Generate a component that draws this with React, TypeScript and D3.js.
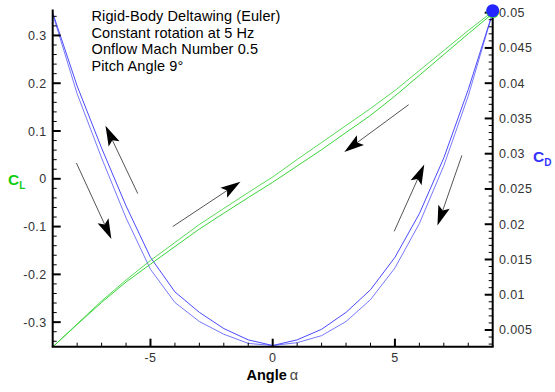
import React from 'react';
import * as d3 from 'd3';

// ---- data ----
const alpha = [-9, -8, -7, -6, -5, -4, -3, -2, -1, 0, 1, 2, 3, 4, 5, 6, 7, 8, 9];
// CL, upstroke (alpha increasing) and downstroke
const clUp = [-0.352, -0.3048, -0.2588, -0.216, -0.1787, -0.1418, -0.1052, -0.072, -0.0393, -0.0073, 0.0268, 0.0609, 0.0969, 0.1326, 0.1732, 0.2165, 0.26, 0.3036, 0.3458];
const clDown = [-0.352, -0.3038, -0.2557, -0.2118, -0.1709, -0.1333, -0.0956, -0.0621, -0.0287, 0.0038, 0.0404, 0.0759, 0.1115, 0.1471, 0.1847, 0.2266, 0.2684, 0.3103, 0.35];
// CD branches
const cdA = [0.05, 0.0396, 0.0308, 0.0226, 0.0153, 0.0104, 0.0075, 0.0052, 0.0036, 0.0028, 0.0036, 0.0051, 0.0075, 0.0107, 0.0153, 0.0215, 0.0294, 0.0391, 0.05];
const cdB = [0.0498, 0.0385, 0.0294, 0.0209, 0.0136, 0.0089, 0.0062, 0.0044, 0.0031, 0.0028, 0.0032, 0.0042, 0.0062, 0.0093, 0.0138, 0.0201, 0.0283, 0.0382, 0.05];

const xTicks = [-5, 0, 5];
const xMinor = [-8, -7, -6, -4, -3, -2, -1, 1, 2, 3, 4, 6, 7, 8];
const clTicks = [-0.3, -0.2, -0.1, 0, 0.1, 0.2, 0.3];
const clTickLabels = ['-0.3', '-0.2', '-0.1', '0', '0.1', '0.2', '0.3'];
const clMinor = [-0.34, -0.32, -0.28, -0.26, -0.24, -0.22, -0.18, -0.16, -0.14, -0.12, -0.08, -0.06, -0.04, -0.02, 0.02, 0.04, 0.06, 0.08, 0.12, 0.14, 0.16, 0.18, 0.22, 0.24, 0.26, 0.28, 0.32, 0.34];
const cdTicks = [0.005, 0.01, 0.015, 0.02, 0.025, 0.03, 0.035, 0.04, 0.045, 0.05];
const cdTickLabels = ['0.005', '0.01', '0.015', '0.02', '0.025', '0.03', '0.035', '0.04', '0.045', '0.05'];
const cdMinor = d3.range(3, 51).filter((v) => v % 5 !== 0).map((v) => v / 1000);

const titleLines = [
  'Rigid-Body Deltawing (Euler)',
  'Constant rotation at 5 Hz',
  'Onflow Mach Number 0.5',
  'Pitch Angle 9°',
];

// arrows in (alpha, CL) coordinates: from -> to (tip)
const arrowFrom = [[-5.52, -0.031], [-8.03, 0.033], [-4.09, -0.1], [5.56, 0.155], [4.97, -0.11], [7.74, 0.049]];
const arrowTo = [[-6.84, 0.111], [-6.6, -0.126], [-1.32, -0.006], [2.93, 0.056], [6.2, 0.03], [6.74, -0.098]];

// ---- layout ----
const W = 555;
const H = 392;
const left = 52.7;
const right = 492.7;
const top = 9.5;
const bottom = 346.7;

const x = d3.scaleLinear().domain([-9, 9]).range([left, right]);
const yCL = d3.scaleLinear().domain([-0.3514, 0.3543]).range([bottom, top]);
const yCD = d3.scaleLinear().domain([0.00263, 0.05045]).range([bottom, top]);

const font = "'Liberation Sans', Arial, Helvetica, sans-serif";
const GREEN = '#3ad43a';
const BLUE = '#4a4aff';

export default function App() {
  const lineCL = (vals: number[]) =>
    d3.line<number>().x((_, i) => x(alpha[i])).y((d) => yCL(d))(vals) || '';
  const lineCD = (vals: number[]) =>
    d3.line<number>().x((_, i) => x(alpha[i])).y((d) => yCD(d))(vals) || '';

  const arrows = arrowFrom.map((f, i) => {
    const t = arrowTo[i];
    const x0 = x(f[0]);
    const y0 = yCL(f[1]);
    const x1 = x(t[0]);
    const y1 = yCL(t[1]);
    const len = Math.hypot(x1 - x0, y1 - y0);
    const dx = (x1 - x0) / len;
    const dy = (y1 - y0) / len;
    const hl = 20;
    const hw = 6;
    const bx = x1 - dx * hl;
    const by = y1 - dy * hl;
    const nx = -dy;
    const ny = dx;
    const head = `M${x1},${y1}L${bx + nx * hw},${by + ny * hw}L${bx + dx * 4},${by + dy * 4}L${bx - nx * hw},${by - ny * hw}Z`;
    return (
      <g key={i}>
        <line x1={x0} y1={y0} x2={bx + dx * 4} y2={by + dy * 4} stroke="#555" strokeWidth={1} />
        <path d={head} fill="#000" />
      </g>
    );
  });

  return (
    <svg
      width={W}
      height={H}
      style={{ position: 'absolute', left: 0, top: 0, background: '#fff' }}
      fontFamily={font}
    >
      <rect x={0} y={0} width={W} height={H} fill="#fff" />

      {/* curves */}
      <path d={lineCD(cdA)} fill="none" stroke={BLUE} strokeWidth={1} />
      <path d={lineCD(cdB)} fill="none" stroke={BLUE} strokeWidth={1} opacity={0.75} />
      <path d={lineCL(clUp)} fill="none" stroke={GREEN} strokeWidth={1} />
      <path d={lineCL(clDown)} fill="none" stroke={GREEN} strokeWidth={1} opacity={0.85} />

      {/* arrows */}
      {arrows}

      {/* axes lines */}
      <line x1={left} y1={top} x2={left} y2={bottom} stroke="#000" strokeWidth={2} />
      <line x1={right} y1={top} x2={right} y2={bottom} stroke="#000" strokeWidth={2} />
      <line x1={left - 1} y1={bottom} x2={right + 1} y2={bottom} stroke="#000" strokeWidth={2} />

      {/* x ticks */}
      {xTicks.map((t) => (
        <g key={'xt' + t}>
          <line x1={x(t)} x2={x(t)} y1={bottom} y2={bottom - 8} stroke="#000" strokeWidth={2} />
          <text x={x(t)} y={362} textAnchor="middle" fontSize={12.5} fill="#333" letterSpacing={0.4}>
            {t}
          </text>
        </g>
      ))}
      {xMinor.map((t) => (
        <line key={'xm' + t} x1={x(t)} x2={x(t)} y1={bottom} y2={bottom - 4} stroke="#000" strokeWidth={1} />
      ))}

      {/* CL ticks */}
      {clTicks.map((t, i) => (
        <g key={'cl' + t}>
          <line x1={left} x2={left + 8} y1={yCL(t)} y2={yCL(t)} stroke="#000" strokeWidth={2} />
          <text x={46.5} y={yCL(t) + 4.5} textAnchor="end" fontSize={12.5} fill="#333" letterSpacing={0.4}>
            {clTickLabels[i]}
          </text>
        </g>
      ))}
      {clMinor.map((t) => (
        <line key={'clm' + t} x1={left} x2={left + 4} y1={yCL(t)} y2={yCL(t)} stroke="#000" strokeWidth={1} />
      ))}

      {/* CD ticks */}
      {cdTicks.map((t, i) => (
        <g key={'cd' + t}>
          <line x1={right} x2={right - 8} y1={yCD(t)} y2={yCD(t)} stroke="#000" strokeWidth={2} />
          <text x={499} y={yCD(t) + 4.5} textAnchor="start" fontSize={12.5} fill="#333" letterSpacing={0.4}>
            {cdTickLabels[i]}
          </text>
        </g>
      ))}
      {cdMinor.map((t) => (
        <line key={'cdm' + t} x1={right} x2={right - 4} y1={yCD(t)} y2={yCD(t)} stroke="#000" strokeWidth={1} />
      ))}

      {/* end-point markers */}
      <circle cx={x(9)} cy={yCL(0.35)} r={6.5} fill={GREEN} />
      <circle cx={x(9)} cy={yCD(0.05) - 2} r={6.5} fill="#2424ff" />

      {/* axis titles */}
      <text x={8} y={185} fontSize={15.5} fontWeight="bold" fill="#11cc11">
        C
        <tspan fontSize={10} dy={4}>L</tspan>
      </text>
      <text x={533} y={162} fontSize={15.5} fontWeight="bold" fill="#3333ff">
        C
        <tspan fontSize={10} dy={4}>D</tspan>
      </text>
      <text x={246.5} y={380} fontSize={14.5} fill="#000">
        <tspan fontWeight="bold">Angle</tspan>
        <tspan fill="#444" dx={3}>α</tspan>
      </text>

      {/* title */}
      {titleLines.map((s, i) => (
        <text key={s} x={91.5} y={21 + i * 16.7} fontSize={14.5} fill="#000" letterSpacing={0.1}>
          {s}
        </text>
      ))}
    </svg>
  );
}
